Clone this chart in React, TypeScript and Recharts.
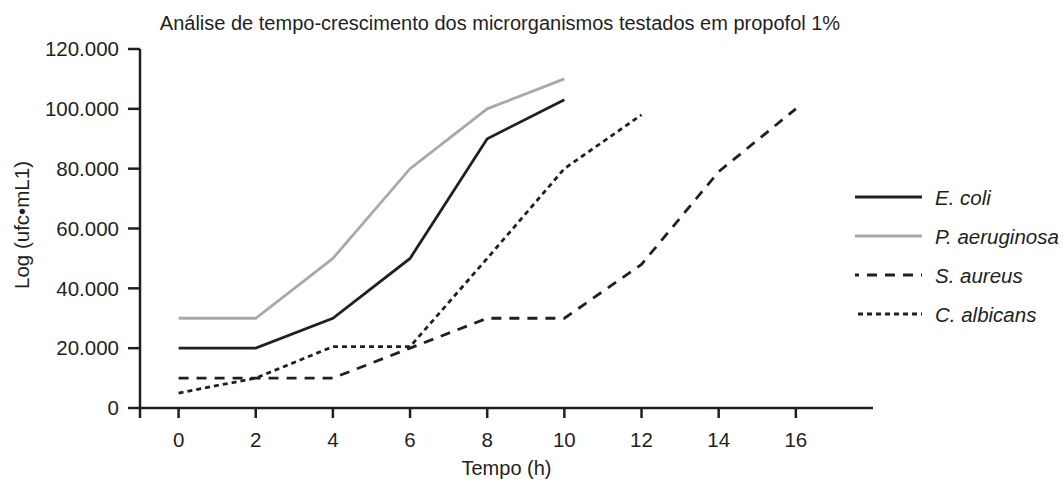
import { Line, LineChart, XAxis, YAxis } from "recharts";

const hours = [0, 2, 4, 6, 8, 10, 12, 14, 16];
const eColi = [20000, 20000, 30000, 50000, 90000, 103000];
const pAeruginosa = [30000, 30000, 50000, 80000, 100000, 110000];
const sAureus = [10000, 10000, 10000, 20000, 30000, 30000, 48000, 79000, 100000];
const cAlbicans = [5000, 10000, 20500, 20500, 50000, 80000, 98000];

const xTicks = [-1, 0, 2, 4, 6, 8, 10, 12, 14, 16];
const yTicks = [0, 20000, 40000, 60000, 80000, 100000, 120000];

const title = "Análise de tempo-crescimento dos microrganismos testados em propofol 1%";
const yLabel = "Log (ufc•mL1)";
const xLabel = "Tempo (h)";

const INK = "#231f20";
const GREY = "#a7a9ac";

const series = [
  { key: "eColi", name: "E. coli", color: INK, dash: undefined },
  { key: "pAeruginosa", name: "P. aeruginosa", color: GREY, dash: undefined },
  { key: "sAureus", name: "S. aureus", color: INK, dash: "10 8" },
  { key: "cAlbicans", name: "C. albicans", color: INK, dash: "5 4" },
];

const data = hours.map((hour, i) => ({
  hour,
  eColi: eColi[i] ?? null,
  pAeruginosa: pAeruginosa[i] ?? null,
  sAureus: sAureus[i] ?? null,
  cAlbicans: cAlbicans[i] ?? null,
}));

const fmtY = (v: number) => (v === 0 ? "0" : `${v / 1000}.000`);
const fmtX = (v: number) => (v < 0 ? "" : String(v));

const tickStyle = { fill: INK, fontSize: 20.5 };
const axisStroke = { stroke: INK, strokeWidth: 2.5 };

export default function App() {
  return (
    <div
      style={{
        position: "absolute",
        left: 0,
        top: 0,
        width: 1063,
        height: 481,
        background: "#fff",
        fontFamily: '"Liberation Sans", Arial, sans-serif',
        color: INK,
      }}
    >
      <LineChart width={1063} height={481} data={data} margin={{ top: 49, right: 190, bottom: 13, left: 10 }}>
        <XAxis
          dataKey="hour"
          type="number"
          domain={[-1, 18]}
          ticks={xTicks}
          tickFormatter={fmtX}
          height={60}
          tick={tickStyle}
          tickSize={10}
          tickMargin={14}
          axisLine={axisStroke}
          tickLine={axisStroke}
          label={{ value: xLabel, position: "bottom", offset: -7, fill: INK, fontSize: 20 }}
        />
        <YAxis
          domain={[0, 120000]}
          ticks={yTicks}
          tickFormatter={fmtY}
          width={130}
          tick={tickStyle}
          tickSize={12}
          tickMargin={9}
          axisLine={axisStroke}
          tickLine={axisStroke}
        />
        {series.map((s) => (
          <Line
            key={s.key}
            type="linear"
            dataKey={s.key}
            name={s.name}
            stroke={s.color}
            strokeWidth={2.8}
            strokeDasharray={s.dash}
            dot={false}
            activeDot={false}
            isAnimationActive={false}
          />
        ))}
      </LineChart>
      <svg width={1063} height={481} style={{ position: "absolute", left: 0, top: 0, pointerEvents: "none" }}>
        <text x={500} y={30} textAnchor="middle" fontSize={20} fill={INK}>
          {title}
        </text>
        <text x={29} y={225} textAnchor="middle" fontSize={20.5} fill={INK} transform="rotate(-90, 29, 225)">
          {yLabel}
        </text>
        {series.map((s, i) => {
          const y = 197 + i * 39;
          return (
            <g key={s.key}>
              <line x1={855} x2={922} y1={y} y2={y} stroke={s.color} strokeWidth={2.8} strokeDasharray={s.dash} strokeDashoffset={s.dash ? 6 : 0} />
              <text x={935} y={y} dominantBaseline="central" fontSize={20.5} fontStyle="italic" fill={INK}>
                {s.name}
              </text>
            </g>
          );
        })}
      </svg>
    </div>
  );
}
